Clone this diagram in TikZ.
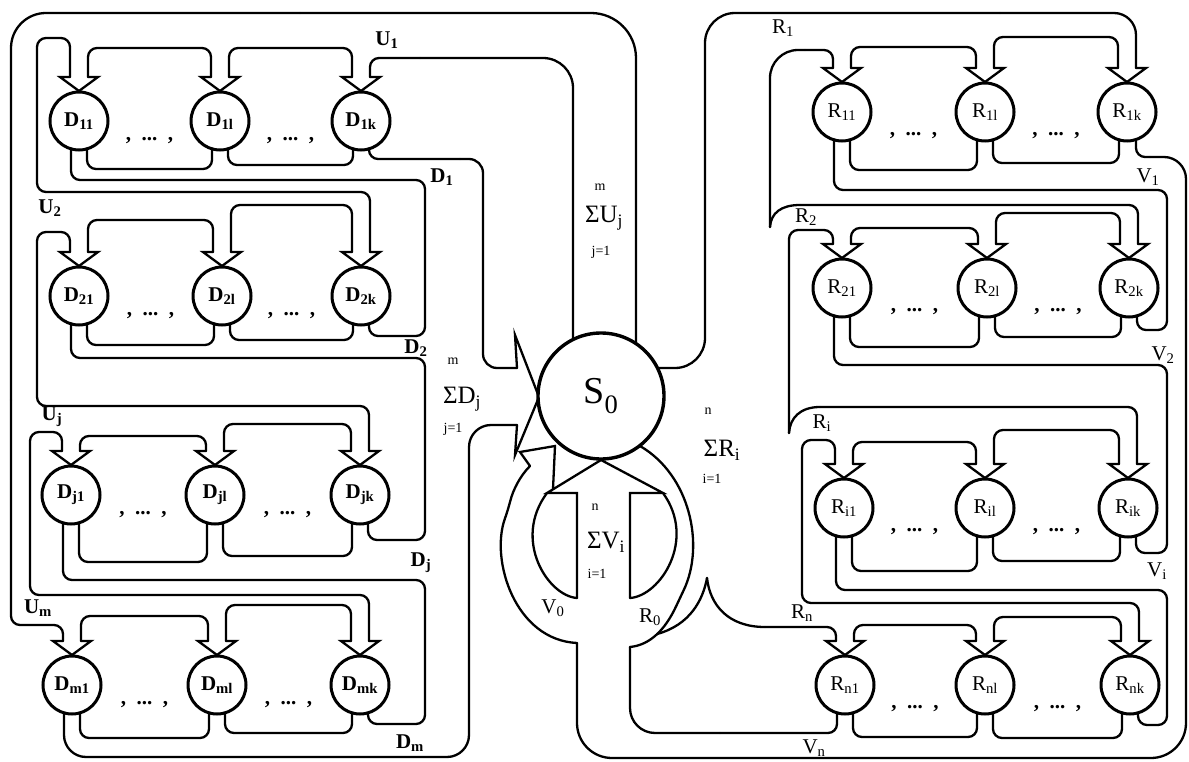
\documentclass[tikz,border=0pt]{standalone}
\usepackage{fontspec}
\setmainfont{Liberation Serif}
\usetikzlibrary{calc}

\begin{document}
\begin{tikzpicture}[x=1pt,y=-1pt,
    band/.style={line width=2.3pt,line join=round,line cap=round,rounded corners=9pt},
    wedge/.style={line width=2.3pt,line join=miter,line cap=round},
    cell/.style={circle,draw,line width=3pt,fill=white,minimum size=58pt,inner sep=0pt,font=\fontsize{21}{21}\selectfont},
    hub/.style={circle,draw,line width=3.4pt,fill=white,minimum size=126pt,inner sep=0pt,font=\fontsize{38}{38}\selectfont},
    lab/.style={inner sep=0pt,font=\fontsize{21}{21}\selectfont},
    sigma/.style={inner sep=0pt,font=\fontsize{25}{25}\selectfont},
    bound/.style={inner sep=0pt,font=\fontsize{14}{14}\selectfont}]
\useasboundingbox (0,0) rectangle (1189,762);

% U band and inputs of the D rows
\draw[band,rounded corners=30pt] (573,342) -- (573,58) -- (420,58);
\draw[band] (420,58) -- (370,58) -- (370,77);
\draw[band] (229,77) -- (229,48) -- (352,48) -- (352,77);
\draw[band] (88,77) -- (88,48) -- (211,48) -- (211,77);
\draw[band] (70,77) -- (70,38) -- (37,38) -- (37,192) -- (370,192) -- (370,252);
\draw[band] (231,252) -- (231,205) -- (352,205) -- (352,252);
\draw[band] (88,252) -- (88,220) -- (213,220) -- (213,252);
\draw[band] (70,252) -- (70,232) -- (37,232) -- (37,406) -- (369,406) -- (369,451);
\draw[band] (224,451) -- (224,424) -- (351,424) -- (351,451);
\draw[band] (80,451) -- (80,436) -- (206,436) -- (206,451);
\draw[band] (62,451) -- (62,432) -- (30,432) -- (30,595) -- (369,595) -- (369,641);
\draw[band] (226,641) -- (226,605) -- (351,605) -- (351,641);
\draw[band] (81,641) -- (81,616) -- (208,616) -- (208,641);
\draw[band] (63,641) -- (63,625) -- (11,625) -- (11,400);
\draw[band,rounded corners=35pt] (11,400) -- (11,13) -- (300,13);
\draw[band,rounded corners=45pt] (300,13) -- (636,13) -- (636,346);

% D outputs
\draw[band] (87,149) -- (87,169) -- (212,169) -- (212,149);
\draw[band] (228,149) -- (228,165) -- (353,165) -- (353,149);
\draw[band] (369,149) -- (369,159) -- (460,159);
\draw[band,rounded corners=14pt] (460,159) -- (483,159) -- (483,368) -- (517,368);
\draw[band] (71,149) -- (71,180) -- (425,180) -- (425,336) -- (369,336) -- (369,324);
\draw[band] (87,324) -- (87,345) -- (214,345) -- (214,324);
\draw[band] (230,324) -- (230,340) -- (353,340) -- (353,324);
\draw[band] (71,324) -- (71,358) -- (425,358) -- (425,540) -- (368,540) -- (368,523);
\draw[band] (79,523) -- (79,562) -- (207,562) -- (207,523);
\draw[band] (223,523) -- (223,556) -- (352,556) -- (352,523);
\draw[band] (63,523) -- (63,580) -- (425,580) -- (425,724) -- (368,724) -- (368,713);
\draw[band] (80,713) -- (80,738) -- (209,738) -- (209,713);
\draw[band] (225,713) -- (225,733) -- (352,733) -- (352,713);
\draw[band,rounded corners=22pt] (64,713) -- (64,757) -- (469,757) -- (469,425) -- (517,425);
\draw[wedge] (517,368) -- (515,335) -- (539,397) -- (515,455) -- (517,425);

% V band, loops V0 and R0
\draw[wedge] (577,598) -- (577,493) -- (547,493) -- (601,460) -- (663,493) -- (630,493) -- (630,598);
\draw[band] (577,598) .. controls (548,596) and (512,540) .. (547,493);
\draw[band] (630,598) .. controls (660,596) and (697,540) .. (663,493);
\draw[band] (577,643) .. controls (515,640) and (490,560) .. (508,510) .. controls (513,490) and (520,476) .. (530,466);
\draw[wedge] (530,466) -- (520,452) -- (555,446) -- (553,489);
\draw[band] (640,446) .. controls (690,475) and (705,545) .. (680,598) .. controls (665,630) and (650,645) .. (630,647);
\draw[band] (707,578) .. controls (703,600) and (690,625) .. (657,634);
\draw[band] (707,578) .. controls (710,605) and (728,627) .. (765,627);
\draw[band] (765,627) -- (836,627) -- (836,641);
\draw[band,rounded corners=35pt] (577,643) -- (577,758) -- (1186,758) -- (1186,300);
\draw[band,rounded corners=22pt] (1186,300) -- (1186,157) -- (1150,157);
\draw[band] (1150,157) -- (1136,157) -- (1136,141);
\draw[band,rounded corners=25pt] (630,647) -- (630,733) -- (720,733);
\draw[band] (720,733) -- (837,733) -- (837,713);

% R band and inputs of the R rows
\draw[band,rounded corners=30pt] (657,368) -- (705,368) -- (705,13) -- (1000,13);
\draw[band,rounded corners=22pt] (1000,13) -- (1136,13) -- (1136,68);
\draw[band] (994,68) -- (994,37) -- (1118,37) -- (1118,68);
\draw[band] (851,68) -- (851,47) -- (976,47) -- (976,68);
\draw[band] (833,68) -- (833,50) -- (805,50);
\draw[band,rounded corners=28pt] (805,50) -- (770,50) -- (770,227);
\draw[band] (770,227) .. controls (771,213) and (781,205) .. (800,205);
\draw[band] (800,205) -- (1138,205) -- (1138,244);
\draw[band] (996,244) -- (996,213) -- (1120,213) -- (1120,244);
\draw[band] (851,244) -- (851,228) -- (978,228) -- (978,244);
\draw[band] (833,244) -- (833,230) -- (789,230) -- (789,433);
\draw[band] (789,433) .. controls (790,418) and (800,407) .. (820,407);
\draw[band] (820,407) -- (1137,407) -- (1137,464);
\draw[band] (994,464) -- (994,430) -- (1119,430) -- (1119,464);
\draw[band] (853,464) -- (853,442) -- (976,442) -- (976,464);
\draw[band] (835,464) -- (835,440) -- (802,440) -- (802,603) -- (1139,603) -- (1139,641);
\draw[band] (994,641) -- (994,617) -- (1121,617) -- (1121,641);
\draw[band] (854,641) -- (854,625) -- (976,625) -- (976,641);

% R outputs
\draw[band] (850,140) -- (850,170) -- (977,170) -- (977,140);
\draw[band] (993,140) -- (993,163) -- (1119,163) -- (1119,140);
\draw[band] (834,140) -- (834,190) -- (1167,190) -- (1167,330) -- (1137,330) -- (1137,316);
\draw[band] (850,316) -- (850,347) -- (979,347) -- (979,316);
\draw[band] (995,316) -- (995,337) -- (1121,337) -- (1121,316);
\draw[band] (834,316) -- (834,365) -- (1167,365) -- (1167,553) -- (1136,553) -- (1136,536);
\draw[band] (852,536) -- (852,571) -- (977,571) -- (977,536);
\draw[band] (993,536) -- (993,561) -- (1120,561) -- (1120,536);
\draw[band] (836,536) -- (836,590) -- (1167,590) -- (1167,725) -- (1138,725) -- (1138,713);
\draw[band] (853,713) -- (853,737) -- (977,737) -- (977,713);
\draw[band] (993,713) -- (993,738) -- (1122,738) -- (1122,713);

% units
\node (s0) [hub] at (601,396) {S\textsubscript{0}};
\foreach \n/\y/\a/\b/\c in {1/121/79/220/361,2/296/79/222/361,j/495/71/215/360,m/685/72/217/360}{
  \node (d\n-1) [cell,font=\fontsize{21}{21}\selectfont\bfseries] at (\a,\y) {D\textsubscript{{\n}1}};
  \node (d\n-l) [cell,font=\fontsize{21}{21}\selectfont\bfseries] at (\b,\y) {D\textsubscript{{\n}l}};
  \node (d\n-k) [cell,font=\fontsize{21}{21}\selectfont\bfseries] at (\c,\y) {D\textsubscript{{\n}k}};
  \node [lab] at ({(\a+\b)/2},\y+20) {\bfseries,\enspace...\enspace,};
  \node [lab] at ({(\b+\c)/2},\y+20) {\bfseries,\enspace...\enspace,};
  \foreach \x in {\a,\b,\c}
    \draw[wedge] (\x-9,\y-44) -- (\x-19,\y-44) -- (\x,\y-30) -- (\x+19,\y-44) -- (\x+9,\y-44);
}
\foreach \n/\y/\a/\b/\c in {1/112/842/985/1127,2/288/842/987/1129,i/508/844/985/1128,n/685/845/985/1130}{
  \node (r\n-1) [cell] at (\a,\y) {R\textsubscript{{\n}1}};
  \node (r\n-l) [cell] at (\b,\y) {R\textsubscript{{\n}l}};
  \node (r\n-k) [cell] at (\c,\y) {R\textsubscript{{\n}k}};
  \node [lab] at ({(\a+\b)/2},\y+24) {\bfseries,\enspace...\enspace,};
  \node [lab] at ({(\b+\c)/2},\y+24) {\bfseries,\enspace...\enspace,};
  \foreach \x in {\a,\b,\c}
    \draw[wedge] (\x-9,\y-44) -- (\x-19,\y-44) -- (\x,\y-30) -- (\x+19,\y-44) -- (\x+9,\y-44);
}

% flow labels
\node (u1) [lab,font=\fontsize{21}{21}\selectfont\bfseries] at (387,40) {U\textsubscript{1}};
\node (u2) [lab,font=\fontsize{21}{21}\selectfont\bfseries] at (50,208) {U\textsubscript{2}};
\node (uj) [lab,font=\fontsize{21}{21}\selectfont\bfseries] at (52,417) {U\textsubscript{j}};
\node (um) [lab,font=\fontsize{21}{21}\selectfont\bfseries] at (38,608) {U\textsubscript{m}};
\node (dd1) [lab,font=\fontsize{21}{21}\selectfont\bfseries] at (442,177) {D\textsubscript{1}};
\node (dd2) [lab,font=\fontsize{21}{21}\selectfont\bfseries] at (416,348) {D\textsubscript{2}};
\node (ddj) [lab,font=\fontsize{21}{21}\selectfont\bfseries] at (421,563) {D\textsubscript{j}};
\node (ddm) [lab,font=\fontsize{21}{21}\selectfont\bfseries] at (410,743) {D\textsubscript{m}};
\node (rr1) [lab] at (783,28) {R\textsubscript{1}};
\node (rr2) [lab] at (806,217) {R\textsubscript{2}};
\node (rri) [lab] at (822,423) {R\textsubscript{i}};
\node (rrn) [lab] at (802,613) {R\textsubscript{n}};
\node (vv1) [lab] at (1148,177) {V\textsubscript{1}};
\node (vv2) [lab] at (1163,355) {V\textsubscript{2}};
\node (vvi) [lab] at (1157,571) {V\textsubscript{i}};
\node (vvn) [lab] at (814,748) {V\textsubscript{n}};
\node (v0) [lab] at (553,608) {V\textsubscript{0}};
\node (r0) [lab] at (650,617) {R\textsubscript{0}};

% sums
\node [bound] at (600,187) {m};
\node [sigma] at (604,218) {ΣU\textsubscript{j}};
\node [bound] at (601,252) {j=1};
\node [bound] at (453,361) {m};
\node [sigma] at (462,399) {ΣD\textsubscript{j}};
\node [bound] at (453,429) {j=1};
\node [bound] at (708,411) {n};
\node [sigma] at (722,450) {ΣR\textsubscript{i}};
\node [bound] at (712,479) {i=1};
\node [bound] at (595,507) {n};
\node [sigma] at (606,542) {ΣV\textsubscript{i}};
\node [bound] at (597,574) {i=1};
\end{tikzpicture}
\end{document}
